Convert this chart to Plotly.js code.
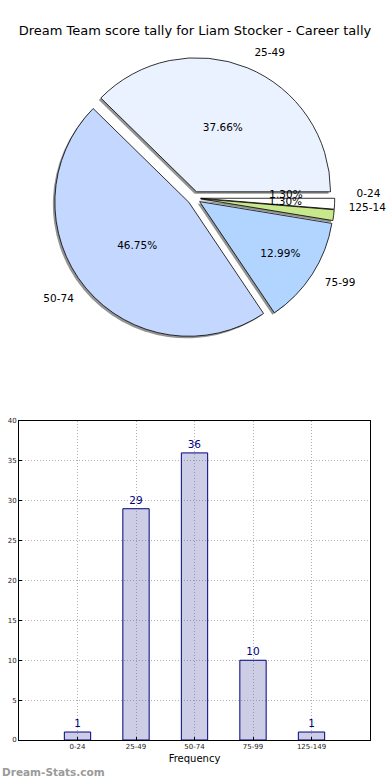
<!DOCTYPE html>
<html>
<head>
<meta charset="utf-8">
<script src="https://cdn.plot.ly/plotly-3.0.1.min.js"></script>
<style>html,body{margin:0;padding:0;background:#fff}#chart{width:390px;height:780px}</style>
</head>
<body>
<div id="chart"></div>
<script>
// Data
const categories = ['0-24', '25-49', '50-74', '75-99', '125-149'];
const pieLabels = ['0-24', '25-49', '50-74', '75-99', '125-14'];
const counts = [1, 29, 36, 10, 1];
const pieColors = ['#ffffff', '#eaf2ff', '#c4d8ff', '#b2d5ff', '#c8e88c'];
const yTicks = [0, 5, 10, 15, 20, 25, 30, 35, 40];

const FONT = 'DejaVu Sans, sans-serif';
const W = 390, H = 780;
// pie geometry (pixels)
const cx = 194, cy = 198, R = 134, pull = 0.05;
function dom(r, dx, dy) {
  const half = r * (1 + pull);
  return {
    x: [(cx - half + dx) / W, (cx + half + dx) / W],
    y: [(H - cy - half - dy) / H, (H - cy + half - dy) / H]
  };
}
const pulls = counts.map(() => pull);
const total = counts.reduce((a, b) => a + b, 0);
const isSmall = counts.map(v => v / total < 0.05);
const common = {type: 'pie', values: counts, labels: pieLabels, sort: false,
  direction: 'counterclockwise', rotation: 90, pull: pulls, showlegend: false};
const clear = counts.map(() => 'rgba(0,0,0,0)');
const txtFont = {family: FONT, size: 10.5, color: '#000'};

const shadow = Object.assign({}, common, {
  domain: dom(R, -2, 2),
  marker: {colors: counts.map(() => 'rgba(90,90,90,0.65)'), line: {width: 0}},
  textinfo: 'none', hoverinfo: 'skip'
});
const main = Object.assign({}, common, {
  domain: dom(R, 0, 0),
  marker: {colors: pieColors, line: {color: '#000', width: 0.8}},
  texttemplate: isSmall.map(s => s ? '' : '%{percent:.2%}'), textposition: 'inside',
  insidetextorientation: 'horizontal', textfont: txtFont
});
const smallPct = Object.assign({}, common, {
  domain: dom(R * 0.68, 0, -8),
  marker: {colors: clear, line: {width: 0}},
  texttemplate: isSmall.map(s => s ? '%{percent:.2%}' : ''), textposition: 'inside',
  insidetextorientation: 'horizontal', textfont: txtFont, hoverinfo: 'skip'
});
const outer = Object.assign({}, common, {
  domain: dom(R * 1.08, 0, 0),
  marker: {colors: clear, line: {width: 0}},
  texttemplate: isSmall.map(s => s ? '' : '%{label}'), textposition: 'outside',
  outsidetextfont: txtFont, hoverinfo: 'skip'
});
const smallLbl = Object.assign({}, common, {
  domain: dom(R * 1.29, 0, -12),
  marker: {colors: clear, line: {width: 0}},
  texttemplate: isSmall.map(s => s ? '%{label}' : ''), textposition: 'inside',
  insidetextorientation: 'horizontal', textfont: txtFont, hoverinfo: 'skip'
});

const bars = {
  type: 'bar', x: categories, y: counts, width: 0.45,
  marker: {color: 'rgba(102,102,178,0.33)', line: {color: '#000080', width: 1}},
  text: counts.map(String), textposition: 'outside',
  textfont: {family: FONT, size: 10, color: '#000080'},
  cliponaxis: false, xaxis: 'x', yaxis: 'y', showlegend: false
};

const gridStyle = {showgrid: true, gridcolor: '#b0b0b0', griddash: '1px,2px', gridwidth: 1};
const layout = {
  width: W, height: H,
  margin: {l: 0, r: 0, t: 0, b: 0},
  paper_bgcolor: '#fff', plot_bgcolor: '#fff',
  font: {family: FONT, color: '#000'},
  title: {text: 'Dream Team score tally for Liam Stocker - Career tally',
          font: {family: FONT, size: 13, color: '#000'},
          x: 0.5, xanchor: 'center', y: 1 - 30 / H, yanchor: 'middle'},
  uniformtext: {mode: 'show', minsize: 10.5},
  xaxis: Object.assign({
    domain: [19 / W, 370 / W], anchor: 'y', type: 'category',
    range: [-1, 5], showline: true, linecolor: '#000', linewidth: 1, mirror: true,
    ticks: 'inside', ticklen: 3, tickcolor: '#000',
    tickfont: {family: FONT, size: 7, color: '#222'},
    title: {text: 'Frequency', font: {family: FONT, size: 10, color: '#000'}, standoff: 4},
    zeroline: false, fixedrange: true
  }, gridStyle),
  yaxis: Object.assign({
    domain: [40 / H, 359 / H], anchor: 'x',
    range: [0, 40], tickvals: yTicks, ticktext: yTicks.map(String),
    showline: true, linecolor: '#000', linewidth: 1, mirror: true,
    ticks: 'inside', ticklen: 3, tickcolor: '#000',
    tickfont: {family: FONT, size: 7, color: '#222'},
    zeroline: false, fixedrange: true
  }, gridStyle),
  annotations: [{
    text: '<b>Dream-Stats.com</b>', xref: 'paper', yref: 'paper',
    x: 0, y: 0, xanchor: 'left', yanchor: 'bottom', showarrow: false,
    font: {family: FONT, size: 10.5, color: '#9a9a9a'}
  }]
};

Plotly.newPlot('chart', [shadow, main, smallPct, outer, smallLbl, bars], layout, {displayModeBar: false, staticPlot: true});
</script>
</body>
</html>
